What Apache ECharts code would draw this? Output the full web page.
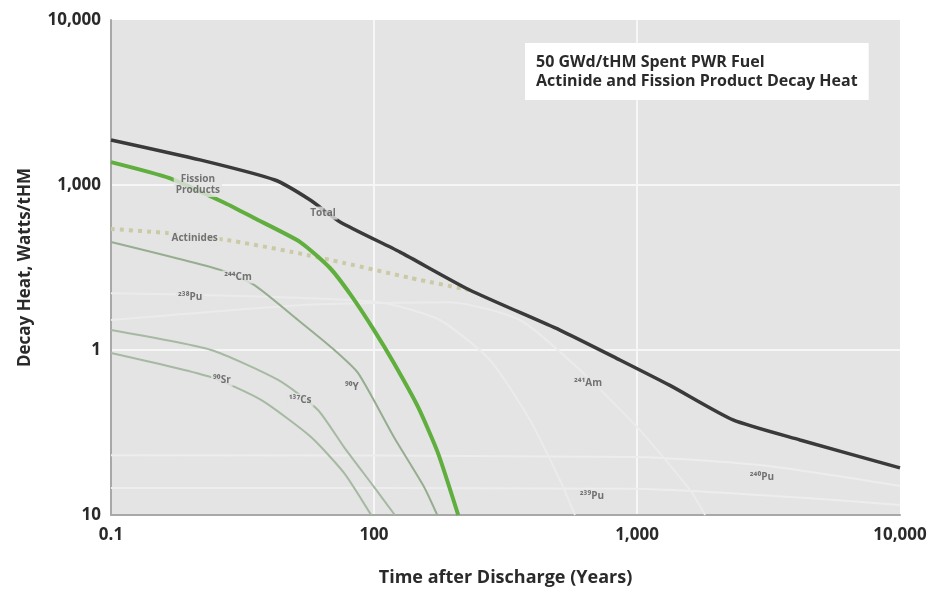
<!DOCTYPE html>
<html>
<head>
<meta charset="utf-8">
<script src="https://cdn.jsdelivr.net/npm/echarts@6/dist/echarts.min.js"></script>
<style>html,body{margin:0;padding:0;background:#fff}#c{width:930px;height:597px}</style>
</head>
<body>
<div id="c"></div>
<script>
// Axis ticks and their (as printed) labels
const xTicks = [10, 100, 1000, 10000];
const xTickLabels = ['0.1', '100', '1,000', '10,000'];
const yTicks = [10, 100, 1000, 10000];
const yTickLabels = ['10', '1', '1,000', '10,000'];

// Series: [time, decay heat]
const total = [[10,1875],[21.8,1419],[42,1072],[57.2,811],[74.3,597],[125.7,392],[231,231],[509,132],[861,87],[1334,61],[2317,37.7],[4168,28.5],[10000,19.3]];
const fission = [[10,1377],[16.7,1101],[27.1,778],[35,631],[52.4,451],[68,314],[81.7,215],[100,132],[119,83.4],[147,45.2],[175,23.8],[209,10]];
const actinides = [[10,541],[16.3,512],[27.6,464],[49.2,392],[76.9,337],[138,273],[231,231]];
const cm244 = [[10,451],[26.2,305],[35,248],[51.4,152],[68.7,104],[86.9,72.6],[119,29.7],[155,14.8],[174,10]];
const cs137 = [[10,132],[24,100],[43.2,65.8],[61.2,43.3],[76.9,25.8],[100,14.8],[120,10]];
const sr90 = [[10,95.9],[24,68.5],[37.2,49.8],[57.6,29.7],[76.9,18],[97.5,10]];
const pu238 = [[10,221],[33.8,212],[105,195],[178,152],[276,87],[392,37.7],[509,16.3],[581,10]];
const am241 = [[10,152],[52.4,187],[194,195],[359,152],[607,75.7],[1026,32.7],[1589,14.2],[1816,10]];
const pu240 = [[10,23],[1000,22.5],[3000,20],[10000,15]];
const pu239 = [[10,14.6],[1000,14.4],[5000,12.5],[10000,11.5]];

// In-plot labels
const labelText = ['Fission\nProducts','Total','Actinides','²⁴⁴Cm','²³⁸Pu','⁹⁰Sr','¹³⁷Cs','⁹⁰Y','²⁴¹Am','²³⁹Pu','²⁴⁰Pu'];
const labelX = [21.4, 64, 20.8, 30.4, 20, 26.4, 52.4, 82.4, 651, 674, 2985];
const labelY = [1000, 676, 477, 277, 209, 65.8, 49.8, 59.7, 63.1, 13.0, 17.0];

const titleLines = ['50 GWd/tHM Spent PWR Fuel', 'Actinide and Fission Product Decay Heat'];

function tickFmt(ticks, labels) {
  return function (v) {
    const r = Math.round(v);
    const i = ticks.indexOf(r);
    return i >= 0 ? labels[i] : '';
  };
}

const font = '"Open Sans", Lato, sans-serif';

function line(name, data, color, width, extra) {
  return Object.assign({
    name: name, type: 'line', data: data, symbol: 'none', smooth: 0.2,
    lineStyle: { color: color, width: width }, z: 3, silent: true
  }, extra || {});
}

const chart = echarts.init(document.getElementById('c'), null, { renderer: 'canvas' });
chart.setOption({
  animation: false,
  backgroundColor: '#ffffff',
  title: {
    text: titleLines.join('\n'),
    left: 525, top: 43,
    backgroundColor: '#ffffff',
    padding: [10, 11, 9, 11],
    textStyle: { fontFamily: font, fontSize: 16, fontWeight: 'bold', color: '#2a2a2a', lineHeight: 19 }
  },
  grid: { left: 111, right: 30, top: 20, bottom: 82, show: true, backgroundColor: '#e4e4e4', borderWidth: 0 },
  xAxis: {
    type: 'log', logBase: 10, min: 10, max: 10000,
    name: 'Time after Discharge (Years)', nameLocation: 'middle', nameGap: 54,
    nameTextStyle: { fontFamily: font, fontSize: 18, fontWeight: 'bold', color: '#2a2a2a' },
    axisLine: { show: true, lineStyle: { color: '#a8a8a8', width: 2 } },
    axisTick: { show: false },
    axisLabel: { formatter: tickFmt(xTicks, xTickLabels), fontFamily: font, fontSize: 17, fontWeight: 'bold', color: '#2a2a2a', margin: 12, showMinLabel: true, showMaxLabel: true },
    splitLine: { show: true, showMinLine: false, showMaxLine: false, lineStyle: { color: '#f6f6f6', width: 2 } },
    minorTick: { show: false }
  },
  yAxis: {
    type: 'log', logBase: 10, min: 10, max: 10000,
    name: 'Decay Heat, Watts/tHM', nameLocation: 'middle', nameGap: 77, nameRotate: 90,
    nameTextStyle: { fontFamily: font, fontSize: 17, fontWeight: 'bold', color: '#2a2a2a' },
    axisLine: { show: true, lineStyle: { color: '#a8a8a8', width: 2 } },
    axisTick: { show: false },
    axisLabel: { formatter: tickFmt(yTicks, yTickLabels), fontFamily: font, fontSize: 17, fontWeight: 'bold', color: '#2a2a2a', margin: 10 },
    splitLine: { show: true, showMinLine: false, showMaxLine: false, lineStyle: { color: '#f6f6f6', width: 2 } }
  },
  series: [
    line('²³⁹Pu', pu239, '#ededed', 2),
    line('²⁴⁰Pu', pu240, '#ededed', 2),
    line('²³⁸Pu', pu238, '#ebebeb', 2),
    line('²⁴¹Am', am241, '#ebebeb', 2),
    line('⁹⁰Sr', sr90, '#a6b9a2', 2),
    line('¹³⁷Cs', cs137, '#a6b9a2', 2),
    line('²⁴⁴Cm', cm244, '#96ad90', 2),
    line('Actinides', actinides, '#cacaa6', 4, { lineStyle: { color: '#cacaa6', width: 4, type: [4, 5] } }),
    line('Fission Products', fission, '#5fae3e', 4),
    line('Total', total, '#3a3a3a', 3.5),
    {
      type: 'scatter', z: 10, silent: true, symbolSize: 0,
      data: labelText.map((t, i) => [labelX[i], labelY[i], t]),
      label: {
        show: true, position: 'inside',
        formatter: p => p.data[2],
        fontFamily: font, fontSize: 10, fontWeight: 'bold', color: '#555',
        backgroundColor: '#e4e4e4', padding: [1, 2], lineHeight: 11
      }
    }
  ]
});
</script>
</body>
</html>
